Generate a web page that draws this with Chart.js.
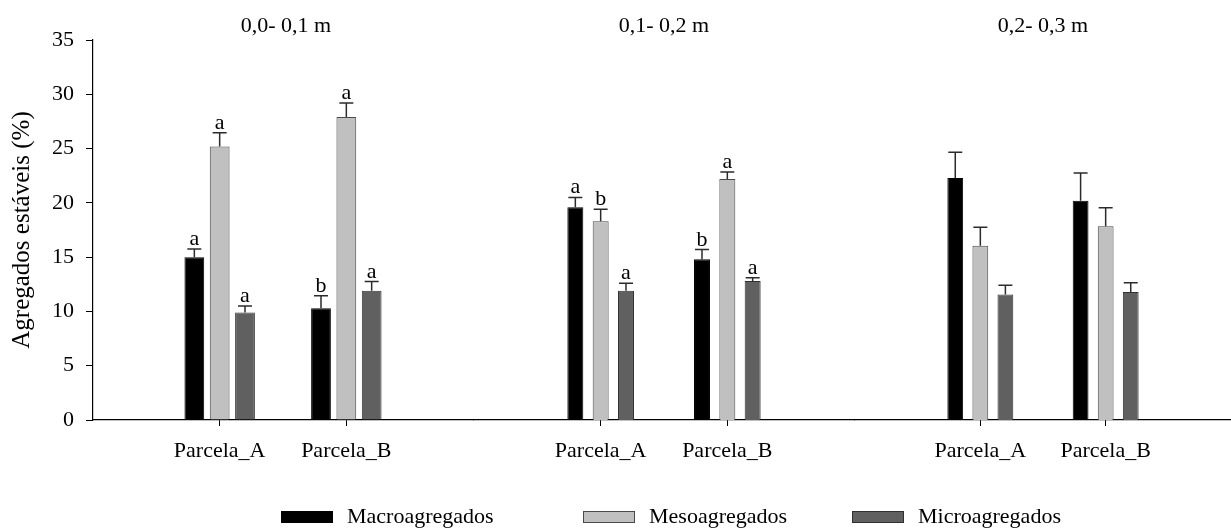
<!DOCTYPE html>
<html>
<head>
<meta charset="utf-8">
<script src="https://cdn.jsdelivr.net/npm/chart.js@4.4.1/dist/chart.umd.min.js"></script>
<style>
html,body{margin:0;padding:0;background:#fff;}
#wrap{position:relative;width:1231px;height:529px;overflow:hidden;}
#wrap canvas{position:absolute;left:0;top:0;}
</style>
</head>
<body>
<div id="wrap">
<canvas id="c0" width="1231" height="529"></canvas>
<canvas id="c1" width="1231" height="529"></canvas>
<canvas id="c2" width="1231" height="529"></canvas>
</div>
<script>
// ---- data ----
const categories = ['Parcela_A', 'Parcela_B'];
const depths = ['0,0- 0,1 m', '0,1- 0,2 m', '0,2- 0,3 m'];
const seriesNames = ['Macroagregados', 'Mesoagregados', 'Microagregados'];
const yTicks = [0, 5, 10, 15, 20, 25, 30, 35];
const yTitle = 'Agregados estáveis (%)';

// values per depth: [Parcela_A, Parcela_B]
const macroValues = [[15.0, 10.3], [19.6, 14.8], [22.3, 20.2]];
const mesoValues  = [[25.2, 27.9], [18.3, 22.2], [16.05, 17.85]];
const microValues = [[9.9, 11.9], [11.9, 12.8], [11.55, 11.8]];

// upper error (standard error) per depth
const macroErr = [[0.75, 1.15], [0.9, 0.9], [2.35, 2.55]];
const mesoErr  = [[1.25, 1.3], [1.1, 0.65], [1.7, 1.7]];
const microErr = [[0.6, 0.85], [0.7, 0.3], [0.85, 0.85]];

// significance letters per depth
const macroLetters = [['a', 'b'], ['a', 'b'], ['', '']];
const mesoLetters  = [['a', 'a'], ['b', 'a'], ['', '']];
const microLetters = [['a', 'a'], ['a', 'a'], ['', '']];

// ---- styles ----
const FONT = "'Liberation Serif', 'Times New Roman', serif";
const seriesStyle = [
  {bg: '#000000', border: '#000000'},
  {bg: '#c0c0c0', border: '#4a4a4a'},
  {bg: '#606060', border: '#303030'}
];
const panelPad = [
  {left: 0, right: 1231 - 473},
  {left: 474, right: 1231 - 854},
  {left: 855, right: 0}
];
const barPct = [0.78, 0.63, 0.63];

const errorPlugin = {
  id: 'errorBars',
  afterDatasetsDraw(chart) {
    const ctx = chart.ctx;
    const y = chart.scales.y;
    ctx.save();
    chart.data.datasets.forEach((ds, di) => {
      const meta = chart.getDatasetMeta(di);
      meta.data.forEach((bar, i) => {
        const v = ds.data[i].y;
        const topPx = y.getPixelForValue(v + ds.err[i]);
        ctx.strokeStyle = '#2b2b2b';
        ctx.lineWidth = 1.5;
        ctx.beginPath();
        ctx.moveTo(bar.x, bar.y);
        ctx.lineTo(bar.x, topPx);
        ctx.moveTo(bar.x - 7, topPx);
        ctx.lineTo(bar.x + 7, topPx);
        ctx.stroke();
        const letter = ds.letters[i];
        if (letter) {
          ctx.fillStyle = '#000';
          ctx.font = '22px ' + FONT;
          ctx.textAlign = 'center';
          ctx.textBaseline = 'alphabetic';
          ctx.fillText(letter, bar.x, topPx - 4);
        }
      });
    });
    ctx.restore();
  }
};

const panelTitlePlugin = {
  id: 'panelTitle',
  afterDraw(chart, args, opts) {
    const ctx = chart.ctx;
    const a = chart.chartArea;
    ctx.save();
    ctx.fillStyle = '#000';
    ctx.font = '22px ' + FONT;
    ctx.textAlign = 'center';
    ctx.textBaseline = 'alphabetic';
    ctx.fillText(opts.text, (a.left + a.right) / 2 + (opts.dx || 0), opts.y);
    ctx.restore();
  }
};

const bottomLegendPlugin = {
  id: 'bottomLegend',
  afterDraw(chart, args, opts) {
    if (!opts.show) return;
    const ctx = chart.ctx;
    ctx.save();
    ctx.font = '22px ' + FONT;
    ctx.textAlign = 'left';
    ctx.textBaseline = 'alphabetic';
    chart.data.datasets.forEach((ds, i) => {
      const x = opts.xs[i];
      ctx.fillStyle = ds.backgroundColor;
      ctx.fillRect(x, 511, 52, 12);
      ctx.strokeStyle = ds.borderColor;
      ctx.lineWidth = 1;
      ctx.strokeRect(x + 0.5, 511.5, 51, 11);
      ctx.fillStyle = '#000';
      ctx.fillText(ds.label, x + 66, 523);
    });
    ctx.restore();
  }
};

const valueSets = [macroValues, mesoValues, microValues];
const errSets = [macroErr, mesoErr, microErr];
const letterSets = [macroLetters, mesoLetters, microLetters];

for (let p = 0; p < 3; p++) {
  const datasets = seriesNames.map((name, s) => ({
    label: name,
    data: categories.map((c, i) => ({x: i + 1, y: valueSets[s][p][i]})),
    err: errSets[s][p],
    letters: letterSets[s][p],
    backgroundColor: seriesStyle[s].bg,
    borderColor: seriesStyle[s].border,
    borderWidth: 1,
    categoryPercentage: 0.6,
    barPercentage: barPct[p]
  }));
  const first = p === 0;
  new Chart(document.getElementById('c' + p), {
    type: 'bar',
    data: {datasets},
    options: {
      responsive: false,
      animation: false,
      events: [],
      layout: {padding: {left: panelPad[p].left, right: panelPad[p].right, top: 40, bottom: 0}},
      scales: {
        x: {
          type: 'linear',
          min: 0,
          max: 3,
          offset: false,
          afterBuildTicks: s => { s.ticks = categories.map((c, i) => ({value: i + 1})); },
          afterFit: s => { s.height = 109; },
          ticks: {
            callback: v => categories[v - 1],
            font: {family: FONT, size: 22},
            color: '#000',
            padding: 12,
            maxRotation: 0,
            autoSkip: false
          },
          grid: {display: true, offset: false, drawOnChartArea: false, drawTicks: true, tickLength: 6, color: '#000', lineWidth: 1},
          border: {display: true, color: '#000', width: 1.2}
        },
        y: {
          display: first,
          min: 0,
          max: 35,
          afterBuildTicks: s => { s.ticks = yTicks.map(v => ({value: v})); },
          afterFit: s => { s.width = first ? 93 : 0; },
          ticks: {font: {family: FONT, size: 22}, color: '#000', padding: 12},
          grid: {display: true, drawOnChartArea: false, drawTicks: true, tickLength: 7, color: '#000', lineWidth: 1},
          border: {display: true, color: '#000', width: 1.2},
          title: {
            display: true,
            text: yTitle,
            font: {family: FONT, size: 25},
            color: '#000',
            padding: {top: 7, bottom: 0}
          }
        }
      },
      plugins: {
        legend: {display: false},
        tooltip: {enabled: false},
        panelTitle: {text: depths[p], y: 32, dx: first ? 3 : 0},
        bottomLegend: {show: first, xs: [281, 583, 852]}
      }
    },
    plugins: [errorPlugin, panelTitlePlugin, bottomLegendPlugin]
  });
}
</script>
</body>
</html>
